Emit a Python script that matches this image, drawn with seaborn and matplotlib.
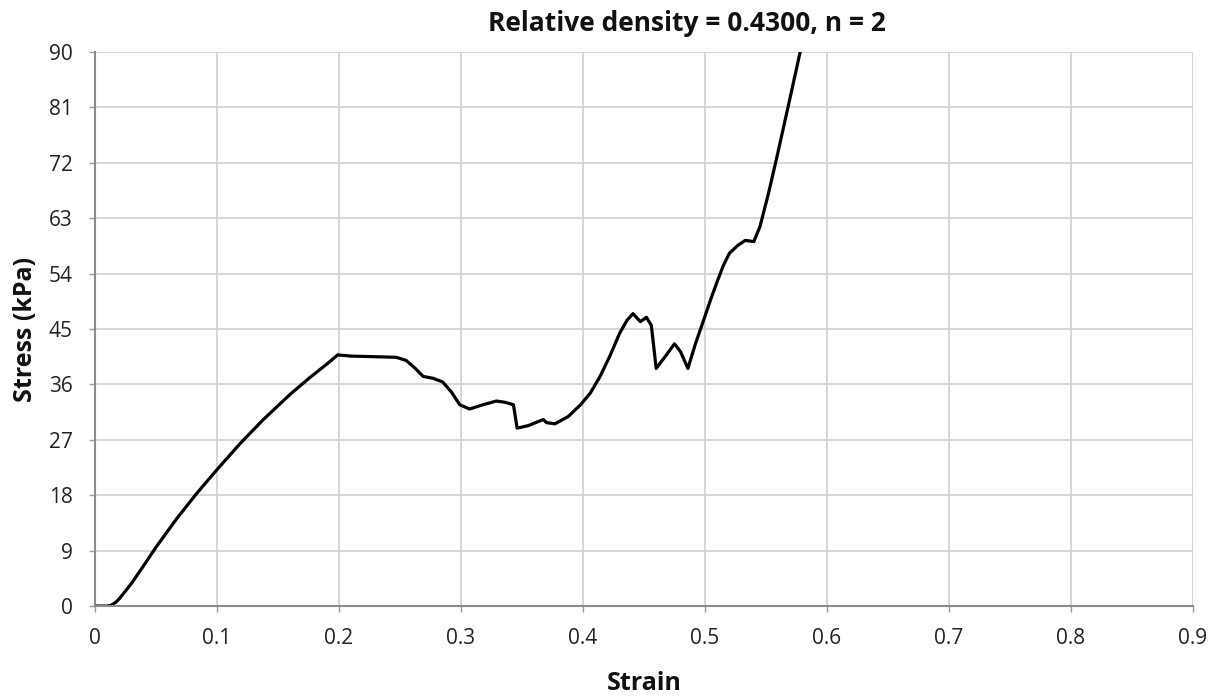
import numpy as np
import pandas as pd
import matplotlib
matplotlib.use("Agg")
import matplotlib.pyplot as plt
import seaborn as sns

# Compression test curve: strain vs stress (kPa)
strain = [0.000, 0.010, 0.013, 0.017, 0.020, 0.030, 0.040, 0.0505, 0.067, 0.0834,
          0.1006, 0.119, 0.138, 0.160, 0.176, 0.190, 0.199, 0.210, 0.230, 0.247,
          0.255, 0.262, 0.269, 0.277, 0.285, 0.292, 0.299, 0.307, 0.318, 0.329,
          0.336, 0.343, 0.346, 0.355, 0.3675, 0.370, 0.377, 0.388, 0.398, 0.406,
          0.414, 0.422, 0.430, 0.436, 0.441, 0.447, 0.452, 0.456, 0.460, 0.468,
          0.475, 0.480, 0.486, 0.492, 0.499, 0.505, 0.510, 0.515, 0.520, 0.527,
          0.533, 0.540, 0.545, 0.552, 0.559, 0.568, 0.578]
stress = [0.0, 0.0, 0.1, 0.6, 1.2, 3.7, 6.6, 9.7, 14.2, 18.3,
          22.3, 26.4, 30.3, 34.4, 37.1, 39.3, 40.8, 40.6, 40.5, 40.4,
          39.9, 38.7, 37.3, 37.0, 36.4, 34.8, 32.7, 32.0, 32.7, 33.3,
          33.1, 32.7, 28.9, 29.3, 30.3, 29.8, 29.6, 30.8, 32.7, 34.6,
          37.3, 40.6, 44.3, 46.4, 47.5, 46.2, 46.9, 45.6, 38.6, 40.7,
          42.6, 41.3, 38.6, 42.5, 46.5, 50.0, 52.7, 55.3, 57.3, 58.6,
          59.4, 59.2, 61.6, 67.0, 73.0, 81.0, 90.0]

df = pd.DataFrame({"Strain": strain, "Stress": stress})

sns.set_theme(style="whitegrid")
plt.rcParams["font.family"] = ["Open Sans", "DejaVu Sans"]

fig = plt.figure(figsize=(12.29, 6.99), dpi=100)
ax = fig.add_axes([0.0773, 0.1330, 0.8934, 0.7926])

sns.lineplot(data=df, x="Strain", y="Stress", ax=ax, color="black",
             linewidth=2.3, sort=False, estimator=None)

ax.set_xlim(0, 0.9)
ax.set_ylim(0, 90)
ax.set_xticks(np.arange(0, 0.91, 0.1))
ax.set_xticklabels(["0", "0.1", "0.2", "0.3", "0.4", "0.5", "0.6", "0.7", "0.8", "0.9"])
ax.set_yticks(np.arange(0, 91, 9))
ax.tick_params(axis="both", labelsize=15, colors="#9a9a9a", labelcolor="#222222",
               length=4, width=1, pad=12, direction="out")
ax.tick_params(axis="x", bottom=True)
ax.tick_params(axis="y", left=True)

ax.grid(True, color="#d0d0d0", linewidth=1.2)
for side in ["top", "right"]:
    ax.spines[side].set_visible(False)
for side in ["left", "bottom"]:
    ax.spines[side].set_color("#8c8c8c")
    ax.spines[side].set_linewidth(1.5)

ax.set_xlabel("Strain", fontsize=18, fontweight="bold", labelpad=16, color="#111111")
ax.set_ylabel("Stress (kPa)", fontsize=18, fontweight="bold", labelpad=8, color="#111111")
ax.set_title("Relative density = 0.4300, n = 2", fontsize=19, fontweight="bold",
             pad=15, x=0.539, color="#111111")

fig.savefig("out.png", dpi=100)
